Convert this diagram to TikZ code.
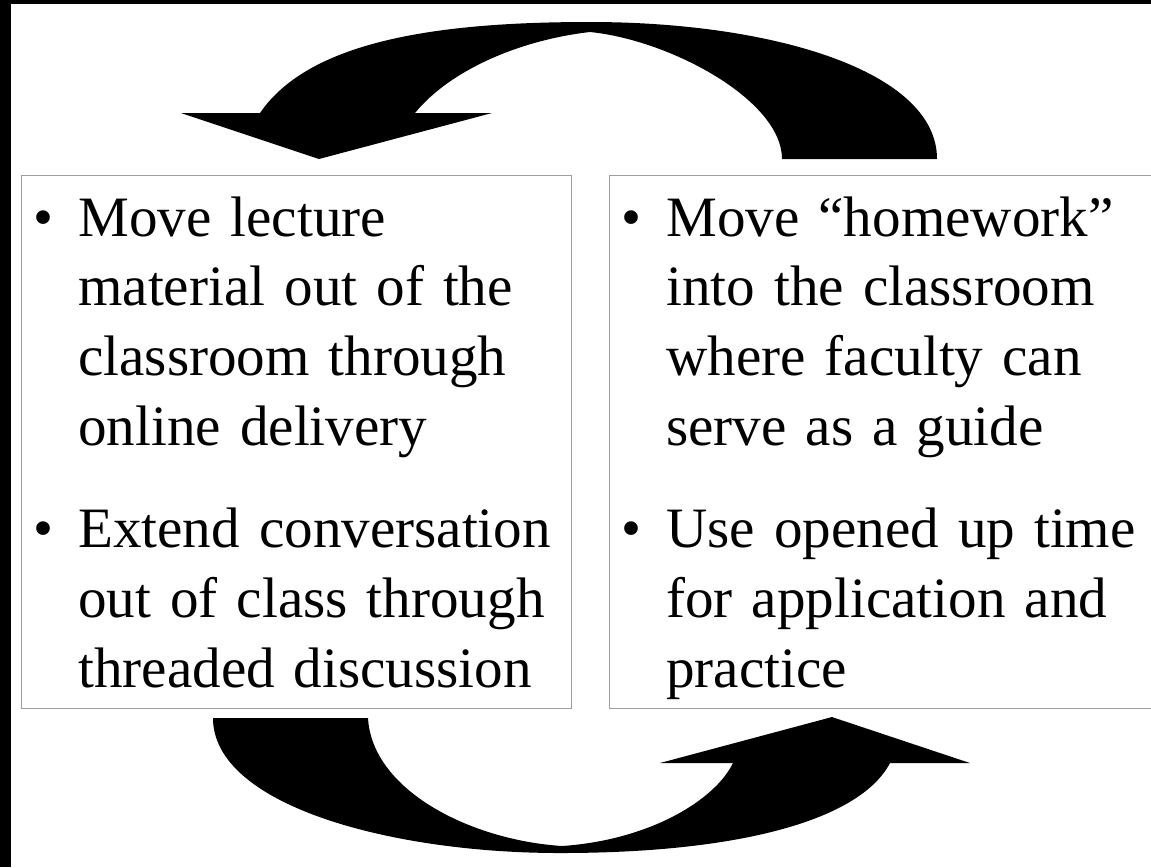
\documentclass[tikz,border=0pt]{standalone}
\usepackage{fontspec}
\setmainfont{Liberation Serif}
\usepackage{tikz}
\usetikzlibrary{positioning}
\definecolor{panelgray}{gray}{0.62}
\tikzset{
  panel/.style={rectangle, draw=panelgray, line width=0.6pt,
                inner sep=0pt, anchor=north west},
  points/.style={inner sep=0pt, text width=10.6cm, align=left,
                 anchor=base west,
                 font=\fontsize{32.5pt}{39.8pt}\selectfont},
  cycarrow/.style={fill=black, draw=none},
  frame/.style={fill=black},
}
\newcommand{\pointitem}[1]{\makebox[0.9cm][l]{\textbullet}\parbox[t]{9.6cm}{\raggedright\strut #1\strut}}

\begin{document}
\begin{tikzpicture}[x=0.02cm, y=-0.02cm]

  \useasboundingbox (0,0) rectangle (1151,867);
  \fill[white] (0,0) rectangle (1151,867);
  \fill[frame] (0,0) rectangle (11,867);
  \fill[frame] (0,0) rectangle (1151,4);

  % the two panels
  \node[panel, minimum width=11cm, minimum height=10.66cm] (outclass) at (21,175) {};
  \node[panel, minimum width=11.1cm, minimum height=10.66cm] (inclass) at (609,175) {};

  \node[points] (outtext) at ([xshift=0.24cm, yshift=-1.22cm]outclass.north west)
    {\pointitem{Move lecture\\material out of the\\classroom through\\online delivery}\par
     \vspace{0.6cm}
     \pointitem{Extend conversation\\out of class through\\threaded discussion}};

  \node[points] (intext) at ([xshift=0.24cm, yshift=-1.22cm]inclass.north west)
    {\pointitem{Move ``homework''\\into the classroom\\where faculty can\\serve as a guide}\par
     \vspace{0.6cm}
     \pointitem{Use opened up time\\for application and\\practice}};

  % upper arrow, right panel -> left panel
  \fill[cycarrow] (260,113) -- (181,113) -- (319,159) -- (492,113) -- (415,113)
    .. controls (450,70) and (520,40) .. (590,32)
    .. controls (670,40) and (782,100) .. (782,159)
    -- (937,159)
    .. controls (937,70) and (770,22) .. (590,22)
    .. controls (440,22) and (310,40) .. cycle;

  % lower arrow, left panel -> right panel
  \fill[cycarrow] (213,718)
    .. controls (213,805) and (390,853) .. (560,853)
    .. controls (740,853) and (860,820) .. (890,763)
    -- (970,763) -- (832,717) -- (660,763) -- (733,763)
    .. controls (715,800) and (650,840) .. (562,846)
    .. controls (470,840) and (372,790) .. (368,718)
    -- cycle;

\end{tikzpicture}
\end{document}
